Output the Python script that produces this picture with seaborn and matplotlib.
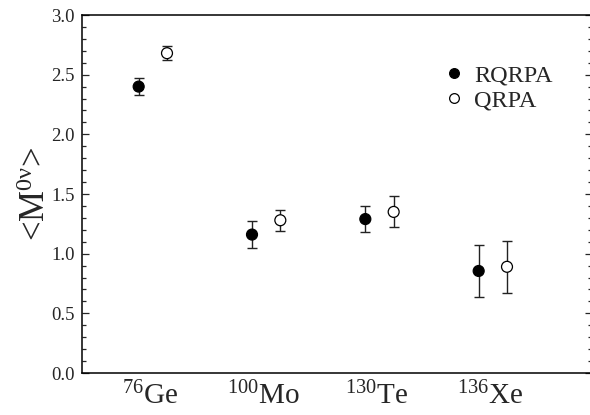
import pandas as pd
import seaborn as sns
import matplotlib.pyplot as plt
from matplotlib.ticker import MultipleLocator

# values
nuclei = ['76Ge', '100Mo', '130Te', '136Xe']
nuc_labels = [r'$^{76}$Ge', r'$^{100}$Mo', r'$^{130}$Te', r'$^{136}$Xe']
models = ['RQRPA', 'QRPA']
rqrpa_val = [2.40, 1.16, 1.29, 0.855]
rqrpa_err = [0.07, 0.11, 0.11, 0.215]
qrpa_val = [2.68, 1.28, 1.35, 0.89]
qrpa_err = [0.06, 0.09, 0.13, 0.22]

sns.set_style('ticks')
plt.rcParams['font.family'] = ['Liberation Serif', 'DejaVu Serif']
plt.rcParams['mathtext.fontset'] = 'custom'
plt.rcParams['mathtext.rm'] = 'Liberation Serif'
plt.rcParams['mathtext.it'] = 'Liberation Serif'

offset = {'RQRPA': 0.0, 'QRPA': 0.25}
rows = []
for i, n in enumerate(nuclei):
    rows.append(dict(nucleus=n, model='RQRPA', value=rqrpa_val[i], err=rqrpa_err[i], x=i + 1 + offset['RQRPA']))
    rows.append(dict(nucleus=n, model='QRPA', value=qrpa_val[i], err=qrpa_err[i], x=i + 1 + offset['QRPA']))
df = pd.DataFrame(rows)

fig = plt.figure(figsize=(5.9, 4.15), dpi=100)
ax = fig.add_axes([82 / 590, 42 / 415, 510 / 590, 358 / 415])

# error bars first, markers on top
ax.errorbar(df['x'], df['value'], yerr=df['err'], fmt='none', ecolor='#222222',
            elinewidth=1.0, capsize=3.5, capthick=1.0, zorder=2)
sns.scatterplot(data=df, x='x', y='value', hue='model', hue_order=models,
                palette={'RQRPA': 'black', 'QRPA': 'white'}, edgecolor='black',
                linewidth=0.9, s=62, ax=ax, zorder=3)

ax.set_xlim(0.5, 5.0)
ax.set_ylim(0, 3.0)
ax.yaxis.set_major_locator(MultipleLocator(0.5))
ax.yaxis.set_minor_locator(MultipleLocator(0.1))
ax.yaxis.set_major_formatter(plt.FormatStrFormatter('%.1f'))
ax.set_xticks([i + 1.1 for i in range(len(nuclei))])
ax.set_xticklabels(nuc_labels, fontsize=21)
ax.tick_params(axis='x', length=0, pad=6)
ax.tick_params(axis='y', which='major', direction='in', length=5, width=0.9,
               labelsize=13.5, right=True, pad=5)
ax.tick_params(axis='y', which='minor', direction='in', length=3, width=0.9, right=True)
for sp in ax.spines.values():
    sp.set_linewidth(1.1)
    sp.set_color('black')
# right edge of the frame falls just outside the picture
ax.spines['right'].set_visible(False)

ax.set_xlabel('')
ax.set_ylabel(r'<M$^{\mathrm{0ν}}$>', fontsize=25, labelpad=-1)

handles, labels = ax.get_legend_handles_labels()
for h in handles:
    h.set_markersize(7)
    h.set_markeredgewidth(0.9)
ax.legend(handles, labels, loc='upper left', bbox_to_anchor=(0.686, 0.888), frameon=False,
          fontsize=17.5, handlelength=1.0, handletextpad=0.35, labelspacing=0.12,
          borderaxespad=0)

fig.savefig('out.png', dpi=100)
